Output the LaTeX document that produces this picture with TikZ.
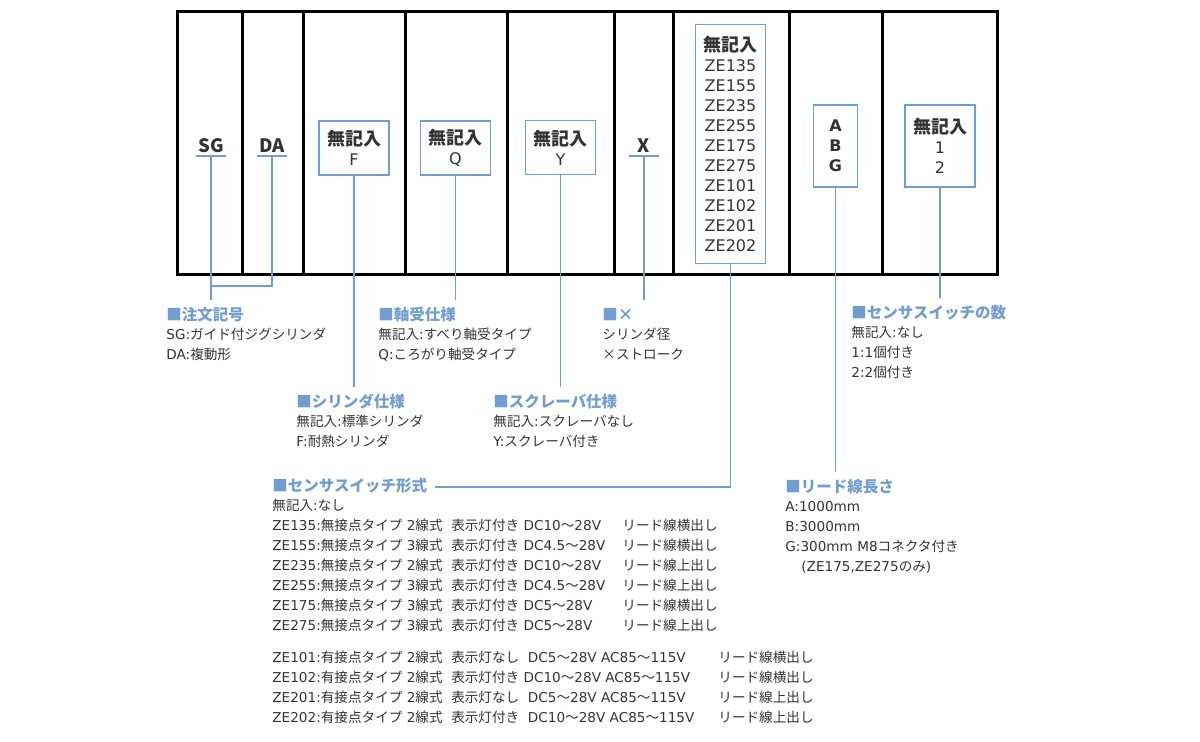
\documentclass[tikz,border=0pt]{standalone}
\usepackage{fontspec}
\setmainfont{DejaVu Sans}
\newfontfamily\jafont{Noto Sans CJK JP}
\usepackage{tikz}
\usetikzlibrary{positioning}

% Japanese characters switch to the CJK font automatically
\XeTeXinterchartokenstate=1
\newXeTeXintercharclass\jaclass
\newcount\jacnt
\newcommand{\jarange}[2]{\jacnt=#1 \loop\XeTeXcharclass\jacnt=\jaclass
  \ifnum\jacnt<#2 \advance\jacnt by 1 \repeat}
\jarange{"3000}{"30FF}
\jarange{"4E00}{"9FFF}
\jarange{"FF00}{"FFEF}
\XeTeXcharclass"25A0=\jaclass
\XeTeXcharclass"00D7=\jaclass
\XeTeXinterchartoks 0 \jaclass={\begingroup\jafont}
\XeTeXinterchartoks 4095 \jaclass={\begingroup\jafont}
\XeTeXinterchartoks \jaclass 0={\endgroup}
\XeTeXinterchartoks \jaclass 4095={\endgroup}

\definecolor{lineblue}{RGB}{114,157,209}
\definecolor{ink}{RGB}{51,51,51}

\newcommand{\mukinyu}{{\fontsize{9}{10}\selectfont\bfseries 無記入}}
% rows of the sensor switch table, lead-wire column kept in line
\newcommand{\swrow}[2]{\makebox[175pt][l]{#1}#2}
\newcommand{\swrowb}[2]{\makebox[223pt][l]{#1}#2}

\begin{document}
\begin{tikzpicture}[x=0.5pt,y=-0.5pt,
                    frame/.style={line width=1.5pt,black},
                    wire/.style={lineblue,line width=0.7pt}]
  \tikzstyle{code}=[font=\jafont\fontsize{9.25}{10}\selectfont\bfseries,text=ink,
                    anchor=south,inner xsep=0pt,inner ysep=1.5pt,
                    minimum width=14.5pt,text depth=0pt]
  \tikzstyle{opt}=[draw=lineblue,line width=0.8pt,text=ink,align=center,
                   inner sep=0pt,font=\fontsize{8}{10}\selectfont]
  \tikzstyle{head}=[anchor=west,text=lineblue,inner xsep=0pt,inner ysep=4pt,
                    text height=6pt,text depth=1.5pt,
                    font=\fontsize{7.75}{10}\selectfont\bfseries]
  \tikzstyle{body}=[anchor=west,text=ink,inner sep=0pt,
                    text height=5.5pt,text depth=1.5pt,
                    font=\fontsize{6.8}{10}\selectfont]

  \useasboundingbox (0,0) rectangle (1200,742);

  % frame
  \draw[frame] (177,12) rectangle (997,275);
  \foreach \x in {242,303,405,507,614,673,789,882}
    \draw[frame] (\x,12) -- (\x,275);

  % model code
  \node[code] (sg)   at (211,156) {SG};
  \node[code] (da)   at (272,156) {DA};
  \node[code] (strk) at (644,156) {X};
  \foreach \nd in {sg,da,strk}
    \draw[wire] (\nd.south west) -- (\nd.south east);

  \node[opt,minimum width=35pt,minimum height=27pt] (cyl) at (354,148) {\mukinyu\\F};
  \node[opt,minimum width=35pt,minimum height=27pt] (brg) at (455.5,148) {\mukinyu\\Q};
  \node[opt,minimum width=35pt,minimum height=27pt] (scr) at (560.5,147.5) {\mukinyu\\Y};
  \node[opt,minimum width=35pt,minimum height=119.5pt] (sw) at (730.5,144)
    {\mukinyu\\ZE135\\ZE155\\ZE235\\ZE255\\ZE175\\ZE275\\ZE101\\ZE102\\ZE201\\ZE202};
  \node[opt,minimum width=22pt,minimum height=41pt,
        font=\fontsize{8}{10}\selectfont\bfseries] (lead) at (835.5,146) {A\\B\\G};
  \node[opt,minimum width=35pt,minimum height=41pt] (num) at (940,146) {\mukinyu\\1\\2};

  % descriptions
  \node[head] (ordh) at (166,316) {■注文記号};
  \foreach \t [count=\i] in {SG:ガイド付ジグシリンダ,DA:複動形}
    \node[body] (ordh\i) at ([yshift=-\i*10pt]ordh.west) {\t};

  \node[head] (brgh) at (378,316) {■軸受仕様};
  \foreach \t [count=\i] in {無記入:すべり軸受タイプ,Q:ころがり軸受タイプ}
    \node[body] (brgh\i) at ([yshift=-\i*10pt]brgh.west) {\t};

  \node[head] (strkh) at (602,316) {■×};
  \foreach \t [count=\i] in {シリンダ径,×ストローク}
    \node[body] (strkh\i) at ([yshift=-\i*10pt]strkh.west) {\t};

  \node[head] (numh) at (851,314) {■センサスイッチの数};
  \foreach \t [count=\i] in {無記入:なし,1:1個付き,2:2個付き}
    \node[body] (numh\i) at ([yshift=-\i*10pt]numh.west) {\t};

  \node[head] (cylh) at (296,403) {■シリンダ仕様};
  \foreach \t [count=\i] in {無記入:標準シリンダ,F:耐熱シリンダ}
    \node[body] (cylh\i) at ([yshift=-\i*10pt]cylh.west) {\t};

  \node[head] (scrh) at (493,403) {■スクレーバ仕様};
  \foreach \t [count=\i] in {無記入:スクレーバなし,Y:スクレーバ付き}
    \node[body] (scrh\i) at ([yshift=-\i*10pt]scrh.west) {\t};

  \node[head] (leadh) at (785,488) {■リード線長さ};
  \foreach \t [count=\i] in {A:1000mm,B:3000mm,G:300mm M8コネクタ付き,
                             {\hspace*{8pt}(ZE175,ZE275のみ)}}
    \node[body] (leadh\i) at ([yshift=-\i*10pt]leadh.west) {\t};

  \node[head] (swh) at (272,487) {■センサスイッチ形式};
  \foreach \t [count=\i] in {無記入:なし,
      \swrow{ZE135:無接点タイプ 2線式~~表示灯付き DC10～28V}{リード線横出し},
      \swrow{ZE155:無接点タイプ 3線式~~表示灯付き DC4.5～28V}{リード線横出し},
      \swrow{ZE235:無接点タイプ 2線式~~表示灯付き DC10～28V}{リード線上出し},
      \swrow{ZE255:無接点タイプ 3線式~~表示灯付き DC4.5～28V}{リード線上出し},
      \swrow{ZE175:無接点タイプ 3線式~~表示灯付き DC5～28V}{リード線横出し},
      \swrow{ZE275:無接点タイプ 3線式~~表示灯付き DC5～28V}{リード線上出し}}
    \node[body] (swh\i) at ([yshift=-\i*10pt]swh.west) {\t};
  \foreach \t [count=\i] in {
      \swrowb{ZE101:有接点タイプ 2線式~~表示灯なし~~DC5～28V AC85～115V}{リード線横出し},
      \swrowb{ZE102:有接点タイプ 2線式~~表示灯付き DC10～28V AC85～115V}{リード線横出し},
      \swrowb{ZE201:有接点タイプ 2線式~~表示灯なし~~DC5～28V AC85～115V}{リード線上出し},
      \swrowb{ZE202:有接点タイプ 2線式~~表示灯付き~~DC10～28V AC85～115V}{リード線上出し}}
    \node[body] (swc\i) at ([yshift=-\i*10pt-76pt]swh.west) {\t};

  % connectors
  \coordinate (ordj) at (211,286);
  \draw[wire] (sg.south) -- (sg.south |- ordh.north);
  \draw[wire] (da.south) |- (ordj);
  \draw[wire] (cyl.south) -- (cyl.south |- cylh.north);
  \draw[wire] (brg.south) -- (brg.south |- brgh.north);
  \draw[wire] (scr.south) -- (scr.south |- scrh.north);
  \draw[wire] (strk.south) -- (strk.south |- strkh.north);
  \draw[wire,shorten >=4pt] (sw.south) |- (swh.east);
  \draw[wire] (lead.south) -- (lead.south |- leadh.north);
  \draw[wire] (num.south) -- (num.south |- numh.north);
\end{tikzpicture}
\end{document}
